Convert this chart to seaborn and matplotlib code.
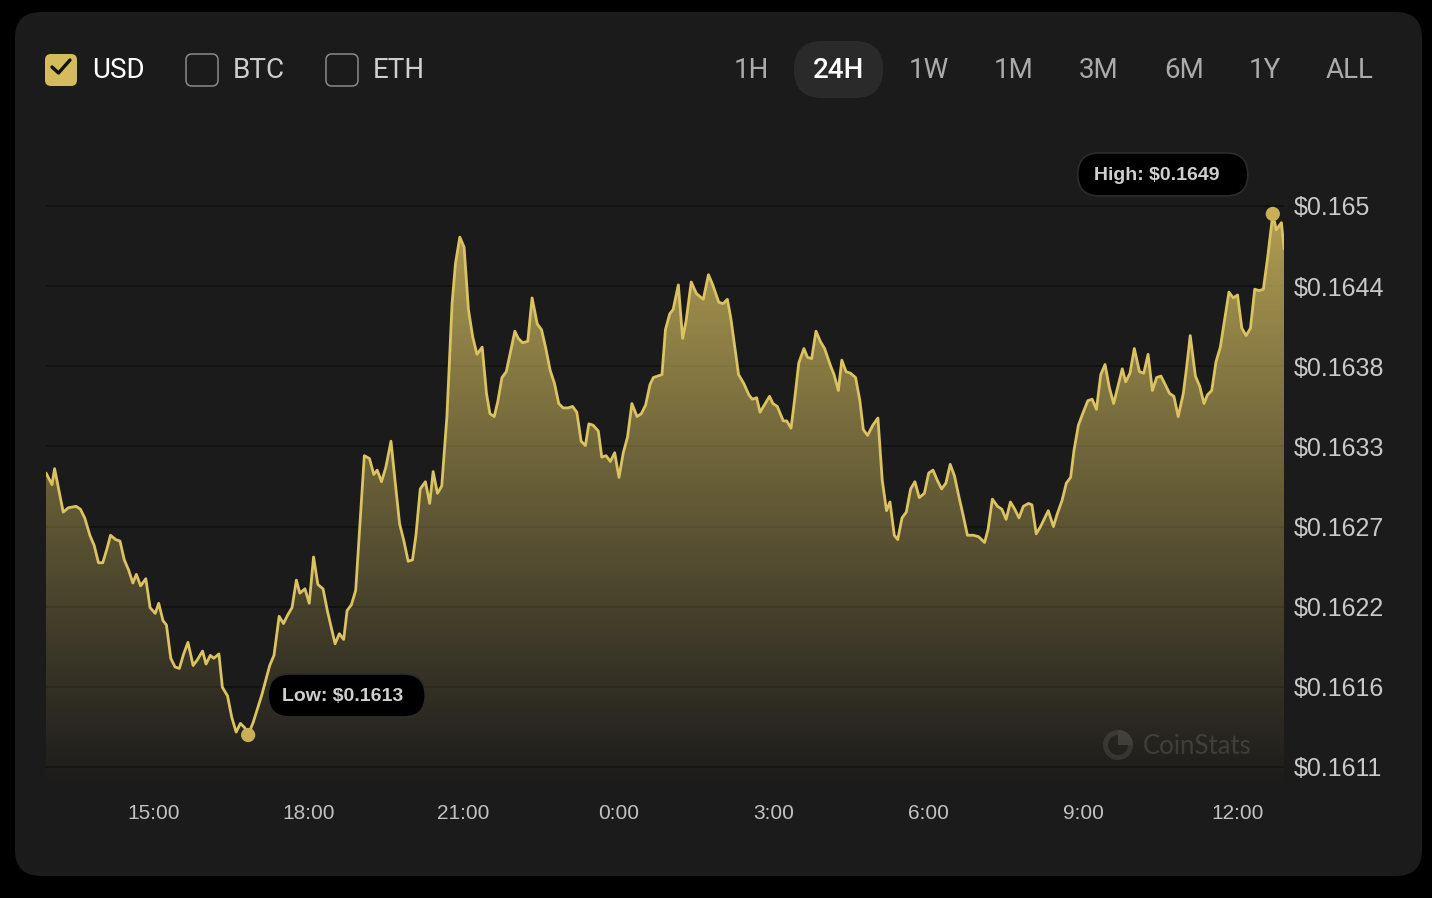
import numpy as np
import pandas as pd
import matplotlib
matplotlib.use("Agg")
import matplotlib.pyplot as plt
import seaborn as sns
from matplotlib.patches import FancyBboxPatch, Wedge
from matplotlib.ticker import FuncFormatter

# ---- data: 24h price history (minutes after 12:54:30) ----
minutes = [
    0, 7, 10, 16, 20, 26, 35, 40, 45, 51,
    56, 61, 66, 71, 75, 81, 86, 91, 96, 101,
    105, 110, 116, 121, 127, 131, 136, 140, 145, 150,
    155, 160, 165, 171, 176, 182, 186, 191, 195, 201,
    205, 211, 216, 221, 226, 231, 235, 241, 251, 260,
    265, 271, 276, 281, 286, 291, 295, 301, 306, 311,
    316, 322, 327, 336, 341, 346, 350, 355, 360, 370,
    376, 381, 385, 390, 395, 401, 406, 411, 416, 421,
    426, 430, 435, 441, 446, 450, 455, 460, 466, 472,
    476, 481, 486, 491, 496, 501, 507, 512, 516, 521,
    525, 530, 535, 540, 545, 549, 554, 560, 565, 571,
    576, 581, 586, 591, 596, 601, 607, 612, 617, 622,
    627, 631, 636, 642, 646, 651, 656, 661, 666, 671,
    676, 681, 687, 692, 697, 702, 706, 716, 720, 725,
    729, 735, 740, 744, 750, 756, 764, 770, 775, 782,
    787, 792, 796, 805, 811, 817, 821, 826, 830, 836,
    841, 845, 850, 857, 861, 866, 870, 875, 881, 885,
    890, 895, 900, 905, 912, 916, 921, 925, 930, 935,
    941, 946, 950, 955, 961, 967, 972, 977, 981, 986,
    990, 995, 1000, 1005, 1010, 1015, 1021, 1026, 1031, 1036,
    1041, 1046, 1051, 1056, 1061, 1066, 1071, 1078, 1084, 1091,
    1095, 1100, 1106, 1111, 1116, 1121, 1126, 1131, 1136, 1142,
    1146, 1151, 1156, 1165, 1171, 1175, 1181, 1186, 1191, 1195,
    1200, 1205, 1211, 1216, 1221, 1226, 1231, 1236, 1241, 1246,
    1251, 1255, 1260, 1265, 1271, 1276, 1281, 1286, 1291, 1296,
    1301, 1306, 1311, 1316, 1322, 1326, 1330, 1336, 1341, 1346,
    1350, 1355, 1360, 1365, 1370, 1375, 1380, 1385, 1390, 1395,
    1400, 1405, 1410, 1415, 1420, 1426, 1430, 1436, 1439,
]
price = [
    0.16311, 0.16303, 0.16314, 0.16296, 0.16284, 0.16287, 0.16288, 0.16286, 0.16280, 0.16268,
    0.16261, 0.16249, 0.16249, 0.16259, 0.16268, 0.16265, 0.16264, 0.16251, 0.16244, 0.16235,
    0.16241, 0.16233, 0.16238, 0.16218, 0.16214, 0.16221, 0.16209, 0.16206, 0.16183, 0.16177,
    0.16176, 0.16186, 0.16194, 0.16178, 0.16182, 0.16188, 0.16179, 0.16185, 0.16183, 0.16186,
    0.16163, 0.16157, 0.16142, 0.16132, 0.16138, 0.16135, 0.16130, 0.16139, 0.16158, 0.16178,
    0.16185, 0.16212, 0.16207, 0.16213, 0.16218, 0.16237, 0.16228, 0.16231, 0.16221, 0.16253,
    0.16234, 0.16231, 0.16216, 0.16193, 0.16200, 0.16196, 0.16216, 0.16220, 0.16230, 0.16323,
    0.16321, 0.16310, 0.16313, 0.16305, 0.16315, 0.16333, 0.16304, 0.16276, 0.16264, 0.16250,
    0.16251, 0.16268, 0.16300, 0.16305, 0.16290, 0.16312, 0.16297, 0.16302, 0.16350, 0.16428,
    0.16456, 0.16474, 0.16467, 0.16424, 0.16405, 0.16393, 0.16398, 0.16366, 0.16352, 0.16350,
    0.16360, 0.16377, 0.16381, 0.16395, 0.16409, 0.16404, 0.16401, 0.16402, 0.16432, 0.16414,
    0.16410, 0.16397, 0.16382, 0.16373, 0.16359, 0.16356, 0.16356, 0.16357, 0.16353, 0.16333,
    0.16330, 0.16345, 0.16344, 0.16340, 0.16322, 0.16323, 0.16319, 0.16325, 0.16308, 0.16325,
    0.16336, 0.16359, 0.16350, 0.16352, 0.16358, 0.16372, 0.16377, 0.16379, 0.16410, 0.16421,
    0.16424, 0.16441, 0.16404, 0.16416, 0.16443, 0.16435, 0.16431, 0.16448, 0.16441, 0.16429,
    0.16428, 0.16431, 0.16418, 0.16379, 0.16373, 0.16365, 0.16362, 0.16363, 0.16353, 0.16359,
    0.16364, 0.16359, 0.16357, 0.16347, 0.16347, 0.16342, 0.16361, 0.16387, 0.16397, 0.16391,
    0.16390, 0.16409, 0.16402, 0.16397, 0.16385, 0.16379, 0.16368, 0.16389, 0.16381, 0.16380,
    0.16377, 0.16361, 0.16341, 0.16337, 0.16344, 0.16349, 0.16306, 0.16285, 0.16291, 0.16268,
    0.16265, 0.16280, 0.16284, 0.16300, 0.16305, 0.16294, 0.16297, 0.16311, 0.16313, 0.16306,
    0.16300, 0.16304, 0.16317, 0.16309, 0.16295, 0.16282, 0.16268, 0.16268, 0.16267, 0.16263,
    0.16272, 0.16293, 0.16288, 0.16286, 0.16279, 0.16291, 0.16286, 0.16280, 0.16288, 0.16290,
    0.16289, 0.16269, 0.16274, 0.16285, 0.16274, 0.16282, 0.16292, 0.16304, 0.16308, 0.16327,
    0.16344, 0.16352, 0.16361, 0.16362, 0.16355, 0.16379, 0.16386, 0.16370, 0.16359, 0.16371,
    0.16383, 0.16374, 0.16380, 0.16397, 0.16381, 0.16380, 0.16393, 0.16368, 0.16377, 0.16378,
    0.16372, 0.16366, 0.16364, 0.16350, 0.16366, 0.16385, 0.16406, 0.16378, 0.16371, 0.16359,
    0.16365, 0.16368, 0.16388, 0.16398, 0.16417, 0.16436, 0.16432, 0.16434, 0.16411, 0.16406,
    0.16411, 0.16438, 0.16437, 0.16438, 0.16460, 0.16490, 0.16479, 0.16484, 0.16466,
]

start_hour = 12 + 54.5 / 60
hour_ticks = [15, 18, 21, 24, 27, 30, 33, 36]
hour_labels = ["15:00", "18:00", "21:00", "0:00", "3:00", "6:00", "9:00", "12:00"]
price_axis_lo, price_axis_hi = 0.161079, 0.164955   # outer gridlines
currencies = ["USD", "BTC", "ETH"]
ranges = ["1H", "24H", "1W", "1M", "3M", "6M", "1Y", "ALL"]
active_range = "24H"

# ---- style ----
W, H, DPI = 1432, 898, 100
BG = "#000000"
CARD = "#1b1b1b"
GOLD = "#dcc362"
GOLD_DOT = "#caaf57"
GRID = "#121212"

sns.set_theme(style="dark", rc={
    "axes.facecolor": "none",
    "figure.facecolor": BG,
    "axes.edgecolor": "none",
    "axes.grid": False,
})
plt.rcParams["font.family"] = ["Liberation Sans", "DejaVu Sans"]

df = pd.DataFrame({"minute": minutes, "price": price})
df["hour"] = start_hour + df["minute"] / 60.0

fig = plt.figure(figsize=(W / DPI, H / DPI), dpi=DPI)

# background layer in pixel units (origin top-left)
bg = fig.add_axes([0, 0, 1, 1], zorder=0)
bg.set_xlim(0, W)
bg.set_ylim(H, 0)
bg.axis("off")
bg.add_patch(FancyBboxPatch((15, 12), 1407, 864,
                            boxstyle="round,pad=0,rounding_size=26",
                            fc=CARD, ec="none"))

# currency checkboxes
box_x = [45, 186, 326]
for name, bx in zip(currencies, box_x):
    checked = name == "USD"
    bg.add_patch(FancyBboxPatch((bx, 54), 32, 32,
                                boxstyle="round,pad=0,rounding_size=6",
                                fc="#d4bb5c" if checked else "none",
                                ec="none" if checked else "#8a8a8a",
                                lw=1.1))
    if checked:
        bg.plot([bx + 7, bx + 13.5, bx + 25], [67, 73, 60],
                color="#111111", lw=2.4, solid_capstyle="round",
                solid_joinstyle="round")
    bg.text(bx + 47, 70, name, family="Roboto", fontsize=20,
            color="#ffffff" if checked else "#cfcfcf",
            ha="left", va="center")

# time range selector
tab_cx = [751, 838, 929, 1014, 1099, 1184, 1265, 1350]
for label, cx in zip(ranges, tab_cx):
    active = label == active_range
    if active:
        bg.add_patch(FancyBboxPatch((794, 41), 89, 57,
                                    boxstyle="round,pad=0,rounding_size=28",
                                    fc="#2a2a2a", ec="none"))
    bg.text(cx, 70, label, family="Roboto", fontsize=20,
            fontweight="medium" if active else "normal",
            color="#ffffff" if active else "#ababab",
            ha="center", va="center")

# watermark
bg.add_patch(Wedge((1118, 745), 15, 0, 360, width=5, fc="#303030", ec="none"))
bg.add_patch(Wedge((1118, 745), 15, -90, 0, fc="#383838", ec="none"))
bg.text(1143, 746, "CoinStats", family="Lato", fontweight="normal",
        fontsize=18.5, color="#383838", ha="left", va="center")

# ---- price chart ----
ax = fig.add_axes([46 / W, (H - 790) / H, 1238 / W, 660 / H], zorder=1)
y_bottom = 0.16092
y_top = 0.16548
x0, x1 = start_hour, start_hour + 1439 / 60.0

yticks = np.linspace(price_axis_lo, price_axis_hi, 8)
for yv in yticks:
    ax.axhline(yv, color=GRID, lw=1.3, zorder=0.5)

# gradient fill under the curve
vmax = df["price"].max()
n = 400
frac = np.linspace(0, 1, n)
rgba = np.zeros((n, 1, 4))
rgba[..., 0], rgba[..., 1], rgba[..., 2] = 0.86, 0.765, 0.385
rgba[:, 0, 3] = 0.78 * frac ** 1.05
im = ax.imshow(rgba, extent=[x0, x1, y_bottom, vmax], origin="lower",
               aspect="auto", zorder=1, interpolation="bilinear")
poly = ax.fill_between(df["hour"], df["price"], y_bottom,
                       facecolor="none", edgecolor="none")
im.set_clip_path(poly.get_paths()[0], transform=ax.transData)

sns.lineplot(data=df, x="hour", y="price", ax=ax, color=GOLD,
             linewidth=2.0, zorder=3, estimator=None)

ax.set_xlim(x0, x1)
ax.set_ylim(y_bottom, y_top)
ax.set_xlabel("")
ax.set_ylabel("")
ax.set_xticks(hour_ticks)
ax.set_xticklabels(hour_labels)
ax.set_yticks(yticks)


def price_fmt(v, _pos):
    return "$" + f"{v:.4f}".rstrip("0")


ax.yaxis.set_major_formatter(FuncFormatter(price_fmt))
ax.yaxis.tick_right()
ax.tick_params(axis="y", length=0, pad=7, labelsize=18, labelcolor="#c9c9c9")
ax.tick_params(axis="x", length=0, pad=10, labelsize=15, labelcolor="#c2c2c2")
for s in ax.spines.values():
    s.set_visible(False)

# low / high markers with pill labels
i_lo = df["price"].idxmin()
i_hi = df["price"].idxmax()
lo = df.loc[i_lo]
hi = df.loc[i_hi]
ax.scatter([lo["hour"], hi["hour"]], [lo["price"], hi["price"]],
           s=105, color=GOLD_DOT, zorder=4, edgecolor="none")

ov = fig.add_axes([0, 0, 1, 1], zorder=2)
ov.set_xlim(0, W)
ov.set_ylim(H, 0)
ov.axis("off")


def to_px(xv, yv):
    px, py = ax.transData.transform((xv, yv))
    return px, H - py


def pill(x_left, x_right, y_center, text, tx):
    ov.add_patch(FancyBboxPatch((x_left, y_center - 21.5), x_right - x_left, 43,
                                boxstyle="round,pad=0,rounding_size=21.5",
                                fc="#000000", ec="#2c2c2c", lw=1.2))
    ov.text(tx, y_center + 1, text, fontsize=14, fontweight="bold",
            color="#cfcfcf", ha="left", va="center")


lx, ly = to_px(lo["hour"], lo["price"])
pill(lx + 20, lx + 177, ly - 39.5, f"Low: ${lo['price']:.4f}", lx + 34)
hx, hy = to_px(hi["hour"], hi["price"])
pill(hx - 195, hx - 25, hy - 39.5, f"High: ${hi['price']:.4f}", hx - 179)

fig.savefig("out.png", dpi=DPI, facecolor=BG)
